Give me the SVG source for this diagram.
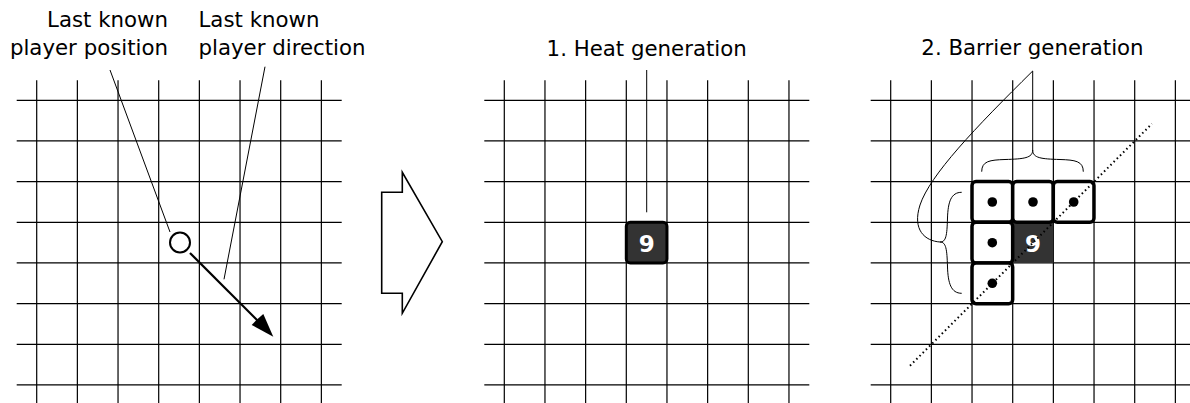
<svg xmlns="http://www.w3.org/2000/svg" xmlns:xlink="http://www.w3.org/1999/xlink" width="1190" height="403" viewBox="0 0 1190 403">
<style>
.gl{stroke:#000;stroke-width:1.2;fill:none}
.lead{stroke:#000;stroke-width:1;fill:none}
.lbl{font-family:"DejaVu Sans",Verdana,sans-serif;font-size:21.3px;fill:#000}
.num{font-family:"DejaVu Sans",Verdana,sans-serif;font-size:23px;font-weight:bold;fill:#fff;text-anchor:middle}
.bar{fill:#fff;stroke:#000;stroke-width:3.5}
.dot{fill:#000}
</style>
<defs>
<g id="grid" class="gl">
<line x1="0" y1="-20" x2="0" y2="306"/>
<line x1="40.667" y1="-20" x2="40.667" y2="306"/>
<line x1="81.333" y1="-20" x2="81.333" y2="306"/>
<line x1="122" y1="-20" x2="122" y2="306"/>
<line x1="162.667" y1="-20" x2="162.667" y2="306"/>
<line x1="203.333" y1="-20" x2="203.333" y2="306"/>
<line x1="244" y1="-20" x2="244" y2="306"/>
<line x1="284.667" y1="-20" x2="284.667" y2="306"/>
<line x1="-20" y1="0" x2="305" y2="0"/>
<line x1="-20" y1="40.667" x2="305" y2="40.667"/>
<line x1="-20" y1="81.333" x2="305" y2="81.333"/>
<line x1="-20" y1="122" x2="305" y2="122"/>
<line x1="-20" y1="162.667" x2="305" y2="162.667"/>
<line x1="-20" y1="203.333" x2="305" y2="203.333"/>
<line x1="-20" y1="244" x2="305" y2="244"/>
<line x1="-20" y1="284.667" x2="305" y2="284.667"/>
</g>
</defs>
<rect width="1190" height="403" fill="#fff"/>

<g id="grid-left"><use xlink:href="#grid" x="36.7" y="100.3"/></g>
<g id="grid-middle"><use xlink:href="#grid" x="504.3" y="100.3"/></g>
<g id="grid-right"><use xlink:href="#grid" x="890.7" y="100.3"/></g>

<g id="label-position">
<text class="lbl" x="168" y="27.3" text-anchor="end">Last known</text>
<text class="lbl" x="168" y="55" text-anchor="end">player position</text>
</g>
<g id="label-direction">
<text class="lbl" x="198.5" y="27.3">Last known</text>
<text class="lbl" x="198.5" y="55">player direction</text>
</g>
<g id="title-heat"><text class="lbl" x="646.7" y="55.7" text-anchor="middle">1. Heat generation</text></g>
<g id="title-barrier"><text class="lbl" x="1032.5" y="55.3" text-anchor="middle">2. Barrier generation</text></g>

<g id="player">
<circle cx="180" cy="242.5" r="10" fill="#fff" stroke="#000" stroke-width="2"/>
</g>

<g id="big-arrow">
<polygon points="381.7,192.3 402.3,192.3 402.3,172.3 442.3,241.7 402.3,313.3 402.3,293.3 381.7,293.3" fill="#fff" stroke="#000" stroke-width="1.6" stroke-linejoin="miter"/>
</g>

<g id="heat-cell-middle">
<rect x="626.3" y="222.3" width="40.667" height="40.667" rx="4" fill="#333" stroke="#000" stroke-width="3"/>
<text class="num" x="646.7" y="251.5">9</text>
</g>

<g id="heat-cell-right">
<rect x="1012.7" y="222.3" width="40.667" height="40.667" fill="#333"/>
<text class="num" x="1033" y="251.5">9</text>
</g>

<g id="barrier-cells">
<rect class="bar" x="972" y="181.6" width="40.667" height="40.667" rx="4"/>
<rect class="bar" x="1012.7" y="181.6" width="40.667" height="40.667" rx="4"/>
<rect class="bar" x="1053.3" y="181.6" width="40.667" height="40.667" rx="4"/>
<rect class="bar" x="972" y="222.3" width="40.667" height="40.667" rx="4"/>
<rect class="bar" x="972" y="263" width="40.667" height="40.667" rx="4"/>
<circle class="dot" cx="992.3" cy="202" r="4.8"/>
<circle class="dot" cx="1033" cy="202" r="4.8"/>
<circle class="dot" cx="1073.7" cy="202" r="4.8"/>
<circle class="dot" cx="992.3" cy="242.7" r="4.8"/>
<circle class="dot" cx="992.3" cy="283.3" r="4.8"/>
</g>

<g id="connectors">
<line class="lead" x1="110" y1="70" x2="170" y2="232"/>
<line class="lead" x1="265" y1="66.7" x2="224" y2="279.3"/>
<line x1="190" y1="253" x2="262" y2="325" stroke="#000" stroke-width="2.2"/>
<polygon points="273.3,336.7 251.7,325 257,319.5 263.3,314" fill="#000"/>
<line class="lead" x1="646.7" y1="70" x2="646.7" y2="212.3"/>
<line x1="910" y1="365.7" x2="1152" y2="123.7" stroke="#000" stroke-width="2" stroke-dasharray="1.5 3"/>
<line class="lead" x1="1032.7" y1="71" x2="1032.7" y2="150"/>
<path class="lead" d="M981.7,171.7 C981.7,161 990,160 1005,159.5 C1024,159 1032.7,158 1032.7,150 C1032.7,158 1041,159 1060,159.5 C1075,160 1083.3,161 1083.3,171.7"/>
<path class="lead" d="M961.7,192.3 C951,192.3 948,202 947.5,218 C947,236 946,242 940,242 C946,242 947,249 947.5,267 C948,283 951,293.3 961.7,293.3"/>
<path class="lead" d="M1032.7,71 C975,128 930,175 920,205 C912,230 925,241 940,242"/>
</g>
</svg>
